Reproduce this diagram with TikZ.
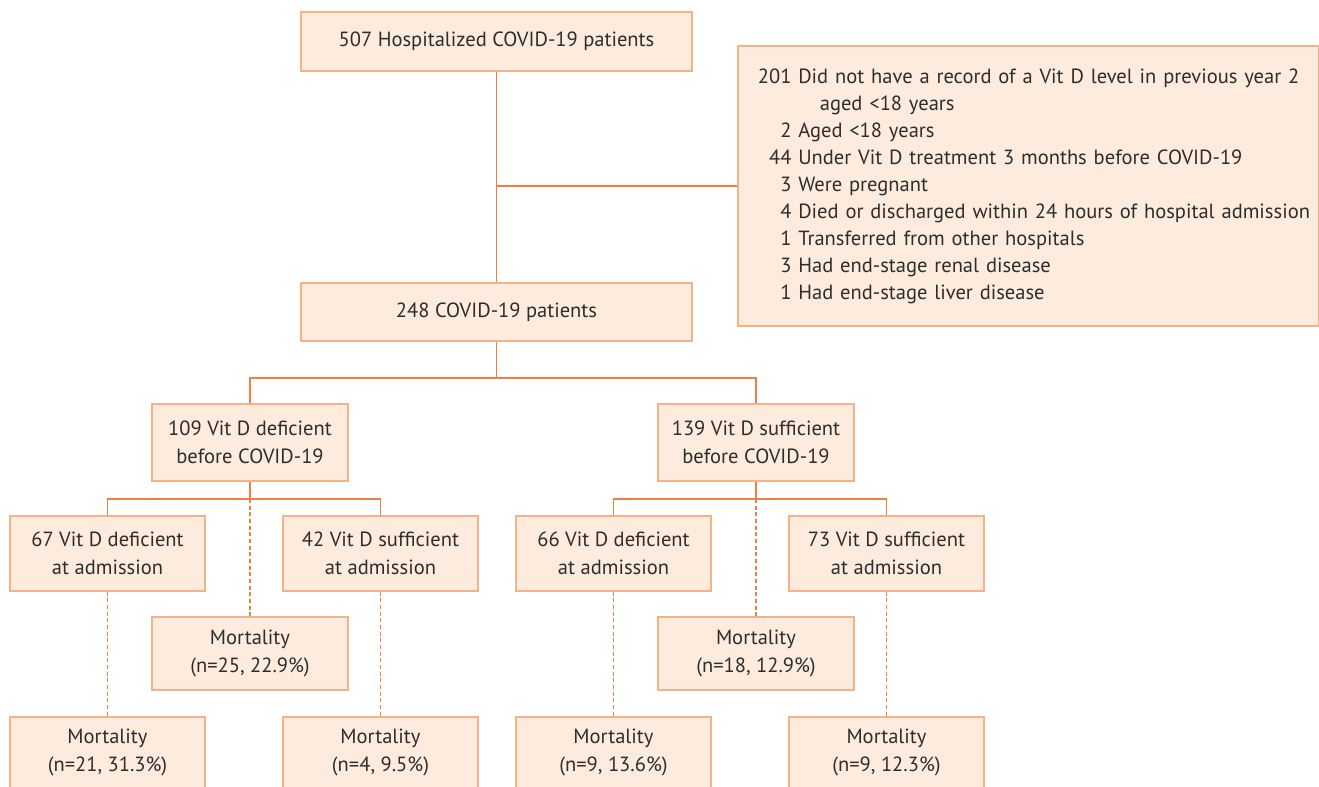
\documentclass[tikz,border=0pt]{standalone}
\usepackage{fontspec}
\setmainfont{PT Sans}
\usetikzlibrary{calc}
\definecolor{BoxFill}{RGB}{253,236,222}
\definecolor{BoxLine}{RGB}{245,178,135}
\definecolor{LinkClr}{RGB}{238,128,66}
\definecolor{TextClr}{RGB}{45,45,45}

\tikzset{
  flowbox/.style={draw=BoxLine,fill=BoxFill,line width=1.3pt,text=TextClr,
    align=center,inner sep=0pt,font=\fontsize{15.4}{21}\selectfont},
  link/.style={draw=LinkClr,line width=1.1pt},
  dotlink/.style={draw=LinkClr,line width=1pt,dash pattern=on 3pt off 2pt}
}

\begin{document}
\begin{tikzpicture}[x=0.75pt,y=-0.75pt]
\clip (0,0) rectangle (1319,786);

% main column
\node[flowbox,minimum width=293pt,minimum height=44pt] (all) at (496.5,41.5) {507 Hospitalized COVID-19 patients};
\node[flowbox,minimum width=293pt,minimum height=44pt] (cohort) at (496.5,312) {248 COVID-19 patients};
\node[flowbox,minimum height=210pt,anchor=north west,text width=406pt,inner xsep=15pt,
      align=left,font=\fontsize{15.4}{20.3}\selectfont] (excl) at (737,45) {%
  \begin{tabular}{@{}r@{ }l@{}}
  201 & Did not have a record of a Vit D level in previous year 2\\
      & \hspace{1.05em}aged <18 years\\
  2 & Aged <18 years\\
  44 & Under Vit D treatment 3 months before COVID-19\\
  3 & Were pregnant\\
  4 & Died or discharged within 24 hours of hospital admission\\
  1 & Transferred from other hospitals\\
  3 & Had end-stage renal disease\\
  1 & Had end-stage liver disease
  \end{tabular}};

% before COVID-19
\node[flowbox,minimum width=147pt,minimum height=58pt] (defpre) at (250,442.5) {109 Vit D deficient\\before COVID-19};
\node[flowbox,minimum width=147pt,minimum height=58pt] (sufpre) at (756,442.5) {139 Vit D sufficient\\before COVID-19};

% at admission
\node[flowbox,minimum width=146pt,minimum height=56pt] (dd) at (107.5,553.5) {67 Vit D deficient\\at admission};
\node[flowbox,minimum width=146pt,minimum height=56pt] (ds) at (380.5,553.5) {42 Vit D sufficient\\at admission};
\node[flowbox,minimum width=146pt,minimum height=56pt] (sd) at (613.5,553.5) {66 Vit D deficient\\at admission};
\node[flowbox,minimum width=146pt,minimum height=56pt] (ss) at (886.5,553.5) {73 Vit D sufficient\\at admission};

% mortality
\node[flowbox,minimum width=147pt,minimum height=55pt] (mdef) at (250,653.5) {Mortality\\(n=25, 22.9\%)};
\node[flowbox,minimum width=147pt,minimum height=55pt] (msuf) at (756,653.5) {Mortality\\(n=18, 12.9\%)};
\node[flowbox,minimum width=146pt,minimum height=70pt,anchor=north] (mdd) at (107.5,716) {};
\node[flowbox,minimum width=146pt,minimum height=70pt,anchor=north] (mds) at (380.5,716) {};
\node[flowbox,minimum width=146pt,minimum height=70pt,anchor=north] (msd) at (613.5,716) {};
\node[flowbox,minimum width=146pt,minimum height=70pt,anchor=north] (mss) at (886.5,716) {};
\foreach \b/\t in {mdd/{n=21, 31.3\%}, mds/{n=4, 9.5\%}, msd/{n=9, 13.6\%}, mss/{n=9, 12.3\%}}
  \node[font=\fontsize{15.4}{21}\selectfont,text=TextClr,align=center,anchor=north,inner sep=0pt] (\b txt) at ($(\b.north)+(0,13)$) {Mortality\\(\t)};

% connectors
\draw[link] (all.south) -- (cohort.north);
\draw[link] (excl.west) -- (excl.west -| all.south);
\draw[link] (cohort.south) -- ++(0,36) coordinate (split);
\draw[link] (defpre.north) |- (split) -| (sufpre.north);

\draw[link] (defpre.south) -- ++(0,17) coordinate (splitd);
\draw[link] (dd.north) |- (splitd) -| (ds.north);
\draw[link] (sufpre.south) -- ++(0,17) coordinate (splits);
\draw[link] (sd.north) |- (splits) -| (ss.north);

\draw[dotlink] (splitd) -- (mdef.north);
\draw[dotlink] (splits) -- (msuf.north);
\foreach \a/\b in {dd/mdd, ds/mds, sd/msd, ss/mss}
  \draw[dotlink] (\a.south) -- (\b.north);
\end{tikzpicture}
\end{document}
